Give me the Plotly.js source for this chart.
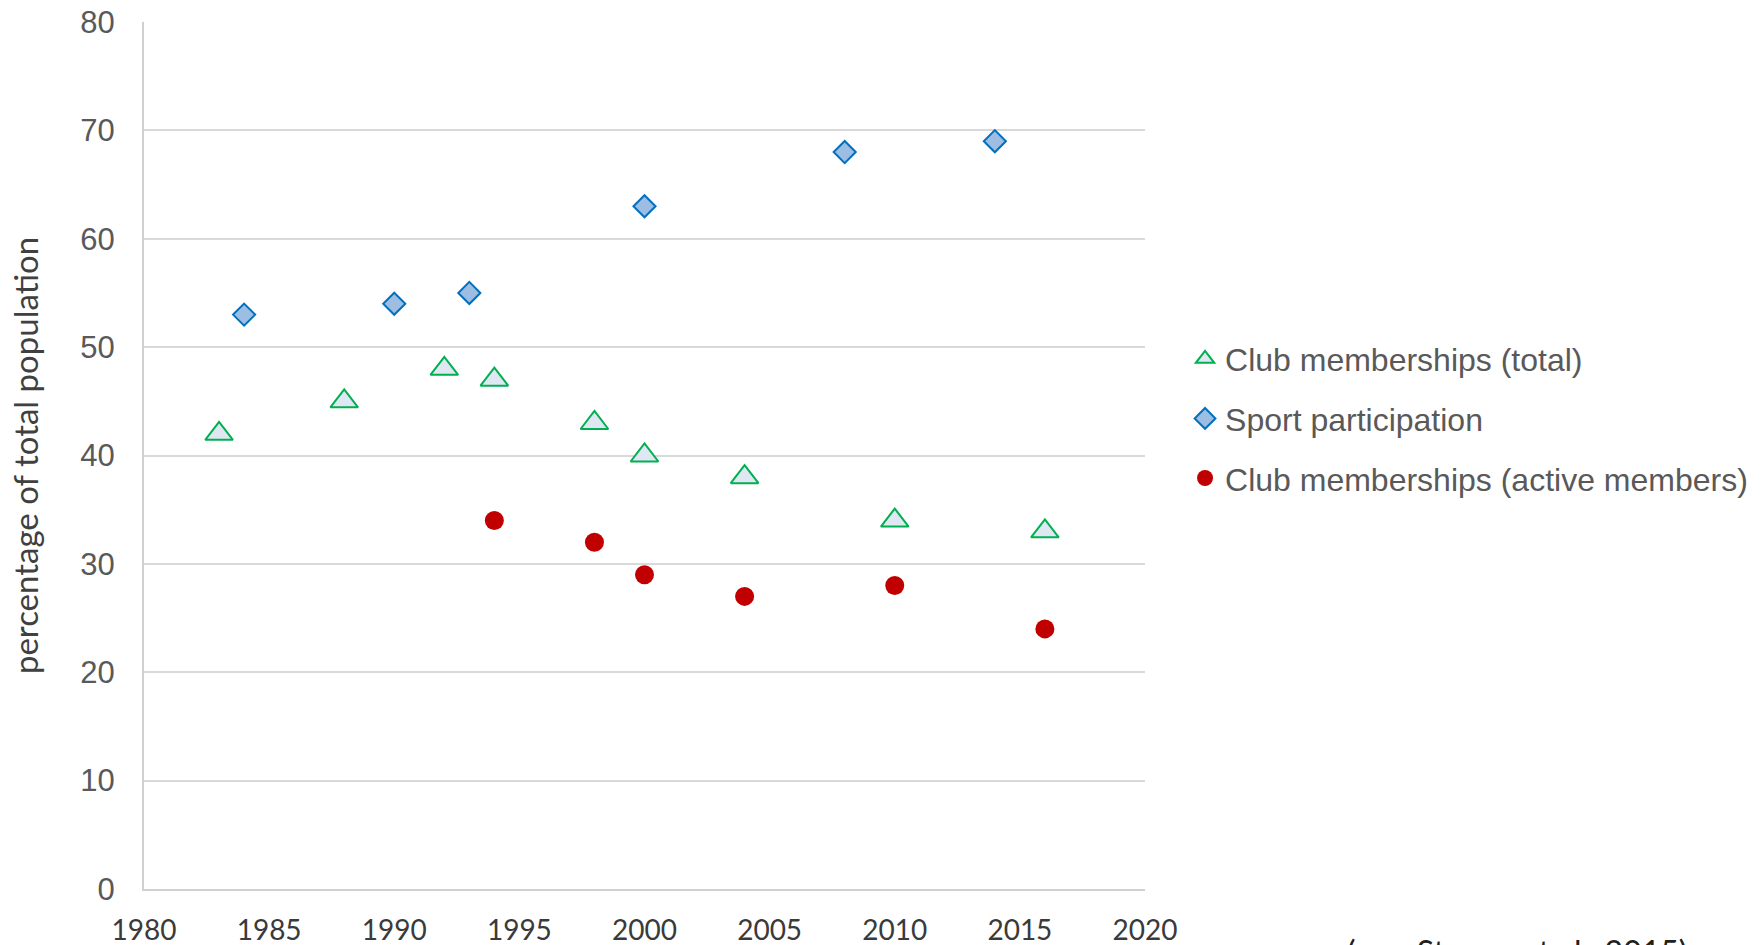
<!DOCTYPE html>
<html>
<head>
<meta charset="utf-8">
<script src="https://cdn.plot.ly/plotly-3.0.1.min.js"></script>
<style>
html,body{margin:0;padding:0;background:#fff;}
#chart{width:1762px;height:945px;}
</style>
</head>
<body>
<div id="chart"></div>
<script>
// Data
const clubTotalYears = [1983, 1988, 1992, 1994, 1998, 2000, 2004, 2010, 2016];
const clubTotalValues = [42, 45, 48, 47, 43, 40, 38, 34, 33];

const sportYears = [1984, 1990, 1993, 2000, 2008, 2014];
const sportValues = [53, 54, 55, 63, 68, 69];

const activeYears = [1994, 1998, 2000, 2004, 2010, 2016];
const activeValues = [34, 32, 29, 27, 28, 24];

const seriesNames = ["Club memberships (total)", "Sport participation", "Club memberships (active members)"];
const yAxisTitle = "percentage of total population";
const sourceNote = "(acc. Stamm et al., 2015)";

const traces = [
  {
    x: clubTotalYears, y: clubTotalValues, name: seriesNames[0],
    type: "scatter", mode: "markers", legendgroup: "a",
    marker: {symbol: "triangle-up", size: 24, color: "#dee7f2", line: {color: "#00b050", width: 2}}
  },
  {
    x: sportYears, y: sportValues, name: seriesNames[1],
    type: "scatter", mode: "markers", legendgroup: "b",
    marker: {symbol: "diamond", size: 17, color: "#9dbde2", line: {color: "#0070c0", width: 2}}
  },
  {
    x: activeYears, y: activeValues, name: seriesNames[2],
    type: "scatter", mode: "markers", legendgroup: "c",
    marker: {symbol: "circle", size: 19, color: "#c00000", line: {width: 0}}
  }
];

const layout = {
  width: 1762, height: 945,
  paper_bgcolor: "#ffffff", plot_bgcolor: "#ffffff",
  margin: {l: 144, r: 617, t: 22, b: 56, autoexpand: false},
  showlegend: true,
  legend: {
    x: 1.04, xanchor: "left", y: 0.643, yanchor: "top",
    font: {family: "Liberation Sans, Arial, sans-serif", size: 32, color: "#595959"},
    tracegroupgap: 15, bgcolor: "rgba(0,0,0,0)"
  },
  xaxis: {
    range: [1980, 2020], dtick: 5, tick0: 1980,
    showgrid: false, zeroline: false,
    showline: true, linecolor: "#d0d0d0", linewidth: 2,
    ticks: "", ticklabelstandoff: 15,
    tickfont: {family: "Lato, sans-serif", size: 28, color: "#3a3a3a"}
  },
  yaxis: {
    range: [0, 80], dtick: 10, tick0: 0,
    showgrid: true, gridcolor: "#d9d9d9", gridwidth: 2,
    zeroline: false,
    showline: true, linecolor: "#d0d0d0", linewidth: 2,
    ticks: "", ticklabelstandoff: 21,
    tickfont: {family: "Liberation Sans, Arial, sans-serif", size: 31, color: "#595959"},
    title: {text: yAxisTitle, standoff: 32, font: {family: "Lato, sans-serif", size: 33, color: "#404040"}}
  },
  annotations: [
    {
      text: sourceNote, xref: "paper", yref: "paper",
      x: 1.2, xanchor: "left", y: -0.047, yanchor: "top",
      showarrow: false,
      font: {family: "Lato, sans-serif", size: 32, color: "#202020"}
    }
  ]
};

Plotly.newPlot("chart", traces, layout, {displayModeBar: false, staticPlot: true});
</script>
</body>
</html>
